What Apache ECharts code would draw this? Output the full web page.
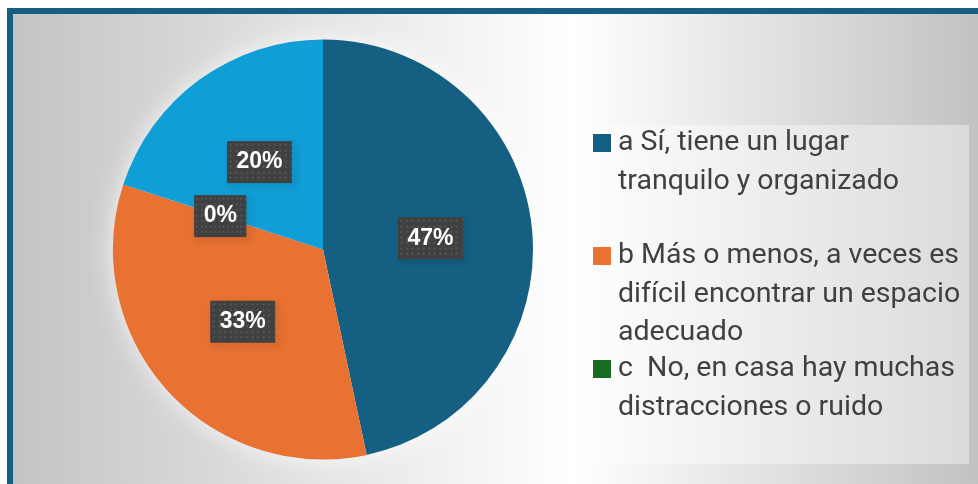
<!DOCTYPE html>
<html><head><meta charset="utf-8">
<script src="https://cdn.jsdelivr.net/npm/echarts@6/dist/echarts.min.js"></script>
<style>html,body{margin:0;padding:0;background:#fff}#c{width:978px;height:484px}</style>
</head><body><div id="c"></div>
<script>
const categories = [
  'a Sí, tiene un lugar tranquilo y organizado',
  'b Más o menos, a veces es difícil encontrar un espacio adecuado',
  'c  No, en casa hay muchas distracciones o ruido',
  'd'
];
const counts = [7, 5, 0, 3];
const legendLines = [
  ['a Sí, tiene un lugar', 'tranquilo y organizado'],
  ['b Más o menos, a veces es', 'difícil encontrar un espacio', 'adecuado'],
  ['c  No, en casa hay muchas', 'distracciones o ruido']
];
const colors = ['#156082', '#E97132', '#196B24', '#0F9ED5'];

function dotPattern(w, h) {
  const c = document.createElement('canvas');
  c.width = w; c.height = h;
  const g = c.getContext('2d');
  g.fillStyle = '#404040'; g.fillRect(0, 0, w, h);
  g.fillStyle = '#575757';
  for (let y = 2; y < h; y += 5.5) for (let x = 2; x < w; x += 5.5) g.fillRect(Math.round(x), Math.round(y), 2, 2);
  return c;
}
const pat = dotPattern(64, 41);

const LH = 38.5;
const iconCenters = [143, 256, 369];

const chart = echarts.init(document.getElementById('c'), null, {renderer: 'canvas'});
chart.setOption({
  animation: false,
  backgroundColor: '#ffffff',
  graphic: [
    {type: 'rect', z: -10, silent: true, shape: {x: 7, y: 8, width: 971, height: 476}, style: {fill: '#156082'}},
    {type: 'rect', z: -9, silent: true, shape: {x: 13, y: 14, width: 965, height: 470},
      style: {fill: new echarts.graphic.LinearGradient(0, 0, 1, 0, [
        {offset: 0, color: '#c4c4c4'}, {offset: 0.58, color: '#ffffff'}, {offset: 1, color: '#c2c2c2'}
      ])}},
    {type: 'circle', z: -8, silent: true, shape: {cx: 323, cy: 249.5, r: 208},
      style: {fill: '#ffffff', shadowColor: 'rgba(255,255,255,0.9)', shadowBlur: 26}},
    {type: 'rect', z: -7, silent: true, shape: {x: 582, y: 125, width: 387, height: 339},
      style: {fill: 'rgba(255,255,255,0.4)'}}
  ],
  legend: legendLines.map((lines, i) => ({
    data: [categories[i]],
    left: 593,
    top: iconCenters[i] - (2 * lines.length - 1) * LH / 2,
    padding: 0,
    itemWidth: 18,
    itemHeight: 18,
    icon: 'rect',
    selectedMode: false,
    formatter: () => '\n'.repeat(lines.length - 1) + lines.join('\n'),
    textStyle: {
      fontFamily: 'Roboto', fontSize: 28.5, lineHeight: LH, color: '#404040',
      padding: [0, 0, 0, 2]
    }
  })),
  series: [{
    type: 'pie',
    center: [323, 249.5],
    radius: 210,
    startAngle: 90,
    clockwise: true,
    silent: true,
    emphasis: {disabled: true},
    itemStyle: {borderWidth: 0},
    labelLine: {show: false},
    label: {
      show: true,
      position: 'inside',
      formatter: p => Math.round(p.percent) + '%',
      color: '#ffffff',
      fontFamily: 'Liberation Sans, Arial',
      fontWeight: 'bold',
      fontSize: 23,
      lineHeight: 23,
      padding: [9, 9, 9, 9],
      backgroundColor: {image: pat},
      borderColor: '#404040',
      borderWidth: 1,
      shadowColor: 'rgba(0,0,0,0.45)',
      shadowBlur: 6,
      shadowOffsetX: 3,
      shadowOffsetY: 3
    },
    data: categories.map((n, i) => ({name: n, value: counts[i], itemStyle: {color: colors[i]}}))
  }]
});
</script></body></html>
